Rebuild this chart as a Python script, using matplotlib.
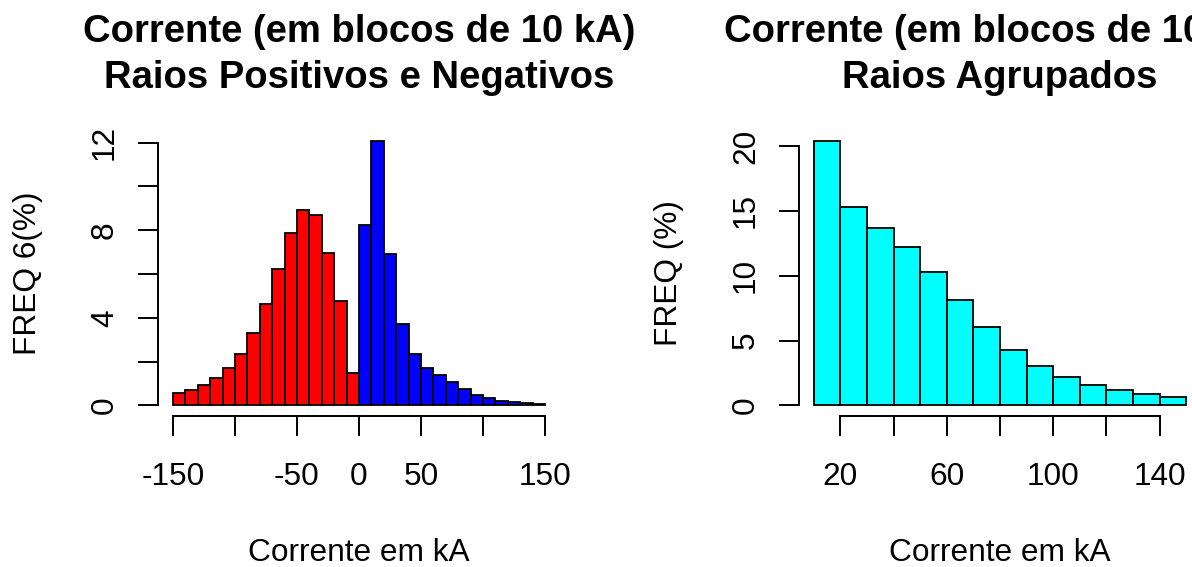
"""Two lightning-current histograms side by side (R base-graphics look)."""
import matplotlib
matplotlib.use("Agg")
import matplotlib.pyplot as plt
import numpy as np

# --- data (percent frequency per 10 kA block) ---
neg_edges = np.arange(-150, 10, 10)          # -150 .. 0
neg_freq = [0.58, 0.70, 0.94, 1.26, 1.72, 2.36, 3.30, 4.62,
            6.22, 7.86, 8.93, 8.68, 6.98, 4.76, 1.46]
pos_edges = np.arange(0, 160, 10)            # 0 .. 150
pos_freq = [8.23, 12.09, 6.89, 3.71, 2.33, 1.73, 1.40, 1.05,
            0.75, 0.47, 0.35, 0.21, 0.14, 0.09, 0.06]
grp_edges = np.arange(10, 160, 10)           # 10 .. 150
grp_freq = [20.41, 15.30, 13.66, 12.22, 10.32, 8.14, 6.03,
            4.29, 3.06, 2.18, 1.57, 1.18, 0.85, 0.67]

left_xticks = [-150, -100, -50, 0, 50, 100, 150]
left_xlabels = ["-150", "", "-50", "0", "50", "", "150"]
left_yticks = [0, 2, 4, 6, 8, 10, 12]
left_ylabels = ["0", "", "4", "", "8", "", "12"]
right_xticks = [20, 40, 60, 80, 100, 120, 140]
right_xlabels = ["20", "", "60", "", "100", "", "140"]
right_yticks = [0, 5, 10, 15, 20]

W, H = 1192, 567
plt.rcParams.update({
    "font.family": "Liberation Sans",
    "axes.linewidth": 1.4,
})

fig = plt.figure(figsize=(W / 100, H / 100), dpi=100)


def px_axes(x0, x1, y0, y1):
    return fig.add_axes([x0 / W, 1 - y1 / H, (x1 - x0) / W, (y1 - y0) / H])


def r_style(ax, xticks, xlabels, yticks, ylabels):
    for s in ["top", "right"]:
        ax.spines[s].set_visible(False)
    ax.spines["bottom"].set_bounds(xticks[0], xticks[-1])
    ax.spines["left"].set_bounds(yticks[0], yticks[-1])
    ax.set_xticks(xticks)
    ax.set_xticklabels(xlabels)
    ax.set_yticks(yticks)
    ax.set_yticklabels(ylabels, rotation=90, va="center")
    ax.tick_params(axis="both", direction="out", length=14.4, width=1.4,
                   labelsize=22.8, colors="black")
    ax.tick_params(axis="x", pad=19)
    ax.tick_params(axis="y", pad=13)


def titles(ax, line1, line2, ylab):
    pos = ax.get_position()
    xc = pos.x0 + pos.width / 2
    fig.text(xc, 1 - 42 / H, line1, ha="center", va="baseline",
             fontsize=27.5, fontweight="bold")
    fig.text(xc, 1 - 88 / H, line2, ha="center", va="baseline",
             fontsize=27.5, fontweight="bold")
    fig.text(xc, 1 - 561 / H, "Corrente em kA", ha="center", va="baseline",
             fontsize=22.8)
    fig.text((pos.x0 * W - 130) / W, pos.y0 + pos.height / 2, ylab,
             rotation=90, ha="center", va="center", fontsize=22.8)


# left: positive and negative flashes
ax1 = px_axes(158, 560, 130, 416)
ax1.bar(neg_edges[:-1], neg_freq, width=np.diff(neg_edges), align="edge",
        color="#FF0000", edgecolor="black", linewidth=1.3)
ax1.bar(pos_edges[:-1], pos_freq, width=np.diff(pos_edges), align="edge",
        color="#0000FF", edgecolor="black", linewidth=1.3)
ax1.set_xlim(-162, 162)
ax1.set_ylim(-0.484, 12.574)
r_style(ax1, left_xticks, left_xlabels, left_yticks, left_ylabels)
titles(ax1, "Corrente (em blocos de 10 kA)", "Raios Positivos e Negativos",
       "FREQ 6(%)")

# right: grouped flashes (panel runs past the right edge, as in the source)
ax2 = px_axes(799, 1201, 130, 416)
ax2.bar(grp_edges[:-1], grp_freq, width=np.diff(grp_edges), align="edge",
        color="#00FFFF", edgecolor="black", linewidth=1.3)
ax2.set_xlim(4.4, 155.6)
ax2.set_ylim(-0.816, 21.226)
r_style(ax2, right_xticks, right_xlabels, right_yticks,
        [str(v) for v in right_yticks])
titles(ax2, "Corrente (em blocos de 10 kA)", "Raios Agrupados", "FREQ (%)")

fig.savefig("out.png", dpi=100, facecolor="white")
